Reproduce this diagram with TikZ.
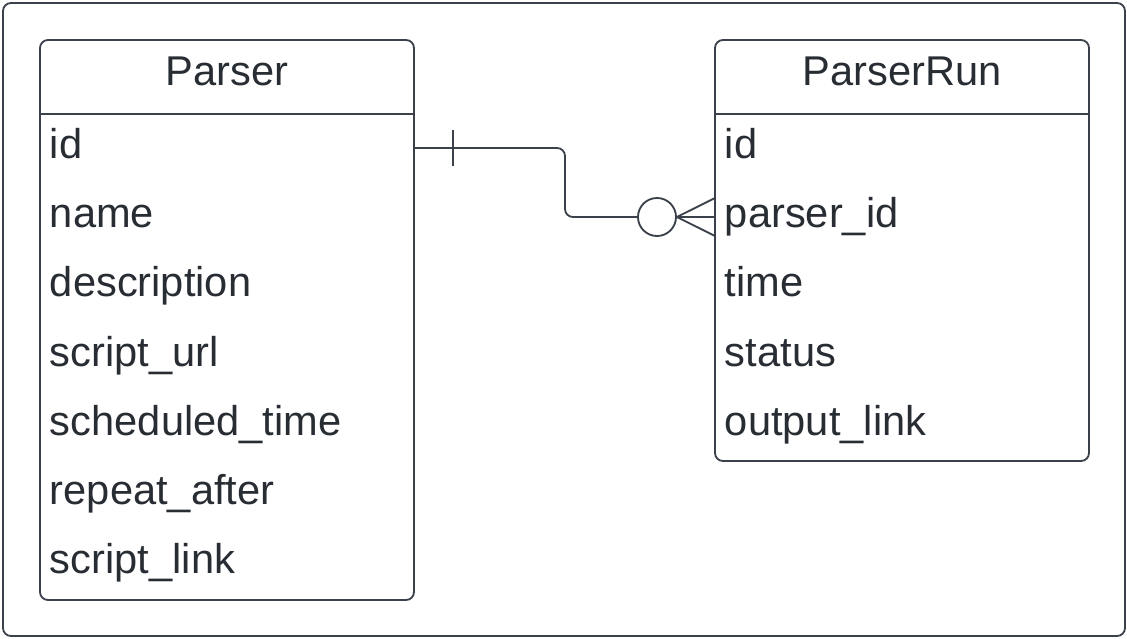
\documentclass[tikz,border=0pt]{standalone}
\usepackage{fontspec}
\setmainfont{Liberation Sans}
\usepackage{tikz}
\usetikzlibrary{positioning}

\definecolor{lucidline}{RGB}{58,65,74}
\definecolor{lucidtext}{RGB}{40,45,52}

\tikzset{
  field/.style={inner sep=0.25cm, text height=21pt, text depth=6pt, text width=8.85cm,
    align=left, text=lucidtext, font=\fontsize{29.6}{34}\selectfont},
  title/.style={field, align=center},
  tablebox/.style={draw=lucidline, line width=1.3pt, rounded corners=0.2cm}
}

\begin{document}
\begin{tikzpicture}[x=0.025cm, y=-0.025cm, line width=1.3pt, draw=lucidline]
      \useasboundingbox (0,0) rectangle (1127,639);
      \draw[lucidline, rounded corners=0.2cm] (3,3) rectangle (1125,636);

       % Parser table
       \draw[tablebox] (40,40) rectangle (414,600);
       \draw[lucidline] (40,114) -- (414,114);
       \node(PTitle)[title] at (227,75) {Parser};
       \node(PId)[field] at (227,148) {id};
       \node(PName)[field] at (227,217) {name};
       \node(PDesc)[field] at (227,286) {description};
       \node(PUrl)[field] at (227,356) {script\_url};
       \node(PSched)[field] at (227,425) {scheduled\_time};
       \node(PRepeat)[field] at (227,494) {repeat\_after};
       \node(PLink)[field] at (227,563) {script\_link};

       % ParserRun table
       \draw[tablebox] (715,40) rectangle (1089,461);
       \draw[lucidline] (715,114) -- (1089,114);
       \node(RTitle)[title] at (902,75) {ParserRun};
       \node(RId)[field] at (902,148) {id};
       \node(RParser)[field] at (902,217) {parser\_id};
       \node(RTime)[field] at (902,286) {time};
       \node(RStatus)[field] at (902,356) {status};
       \node(ROut)[field] at (902,425) {output\_link};

       % relation
       \node(Zero)[circle, draw=lucidline, line width=1.3pt, minimum size=0.95cm, inner sep=0pt] at (657,217) {};
       \draw[lucidline, rounded corners=0.2cm] (PId.east) -- (565,148) |- (Zero.west);
       \draw[lucidline] (453,130) -- (453,166);
       \draw[lucidline] (Zero.east) -- (715,198);
       \draw[lucidline] (Zero.east) -- (RParser.west);
       \draw[lucidline] (Zero.east) -- (715,236);
     \end{tikzpicture}
\end{document}
